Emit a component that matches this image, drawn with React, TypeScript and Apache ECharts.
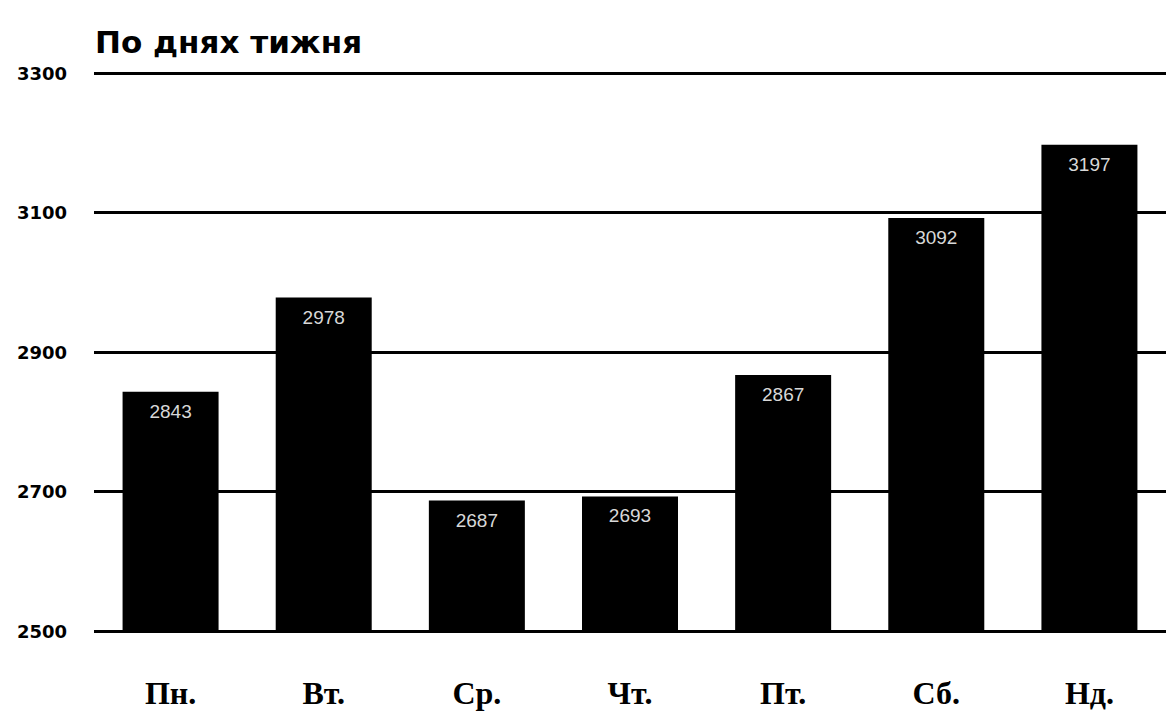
import React, { useEffect, useRef } from "react";
import * as echarts from "echarts";

const titleText = "По днях тижня";
const days = ["Пн.", "Вт.", "Ср.", "Чт.", "Пт.", "Сб.", "Нд."];
const values = [2843, 2978, 2687, 2693, 2867, 3092, 3197];
const gridValues = [2500, 2700, 2900, 3100, 3300];

export default function App() {
  const ref = useRef<HTMLDivElement>(null);
  useEffect(() => {
    if (!ref.current) return;
    const chart = echarts.init(ref.current, undefined, { renderer: "svg" });
    chart.setOption({
      animation: false,
      backgroundColor: "#ffffff",
      title: {
        text: titleText,
        left: 90,
        top: 21,
        textStyle: {
          fontFamily: "DejaVu Sans",
          fontWeight: 900,
          fontSize: 31,
          color: "#000",
        },
      },
      grid: { left: 94, right: 0, top: 73, bottom: 97 },
      xAxis: {
        type: "category",
        data: days,
        axisLine: { show: false },
        axisTick: { show: false },
        axisLabel: {
          margin: 46,
          fontFamily: "Liberation Serif",
          fontWeight: "bold",
          fontSize: 32,
          color: "#000",
        },
      },
      yAxis: {
        type: "value",
        min: 2500,
        max: 3300,
        interval: 100,
        splitLine: { show: false },
        axisLine: { show: false },
        axisTick: { show: false },
        axisLabel: {
          margin: 27,
          fontFamily: "DejaVu Sans",
          fontWeight: 900,
          fontSize: 18,
          color: "#000",
          formatter: (v: number) => (gridValues.includes(v) ? String(v) : ""),
        },
      },
      series: [
        {
          type: "bar",
          data: values,
          barWidth: 96,
          itemStyle: { color: "#000" },
          label: {
            show: true,
            position: "insideTop",
            distance: 10,
            color: "#d8d8d8",
            fontFamily: "Liberation Sans",
            fontSize: 19,
          },
          markLine: {
            silent: true,
            symbol: "none",
            label: { show: false },
            lineStyle: { color: "#000", width: 3, type: "solid" },
            data: gridValues.map((v) => ({ yAxis: v })),
          },
        },
      ],
    });
    return () => chart.dispose();
  }, []);
  return (
    <div
      ref={ref}
      style={{ position: "fixed", left: 0, top: 0, width: 1166, height: 728 }}
    />
  );
}
